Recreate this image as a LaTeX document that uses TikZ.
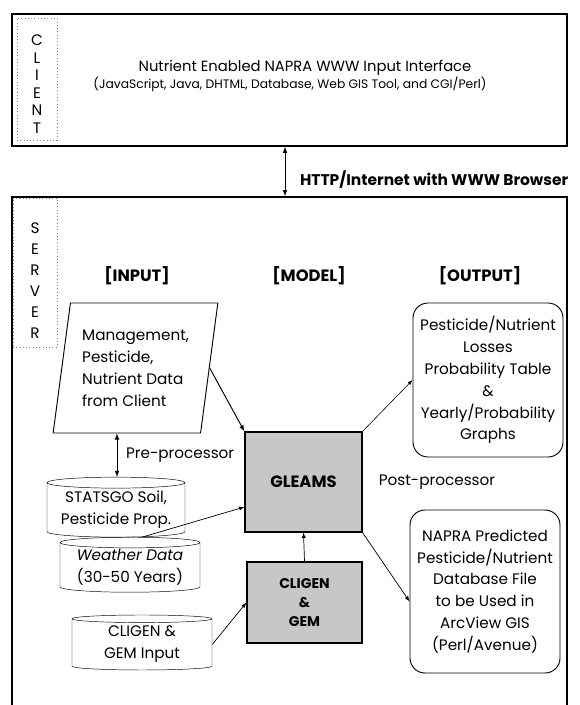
\documentclass[tikz,border=0pt]{standalone}
\usepackage{fontspec}
\setmainfont{Poppins}
\usepackage{tikz}
\usetikzlibrary{shapes.geometric,arrows}
\newcommand{\pxu}{0.03cm}
\tikzset{>=latex}

\begin{document}
\begin{tikzpicture}[x=0.03cm, y=-0.03cm]
\useasboundingbox (0,0) rectangle (579,705);
\tikzstyle{every node} = [font=\fontsize{13}{18.7}\selectfont]
\tikzstyle{frame} = [draw, line width=1.4pt, inner sep=0]
\tikzstyle{tag} = [draw=gray, dotted, line width=0.8pt, inner sep=0]
\tikzstyle{hdr} = [font=\fontsize{14}{16}\selectfont\bfseries]
\tikzstyle{data} = [cylinder, shape border rotate=90, aspect=0.1, draw, align=center, inner sep=0]
\tikzstyle{proc} = [draw, line width=1pt, fill=black!22, align=center, inner sep=0]
\tikzstyle{result} = [draw, line width=0.8pt, rounded corners=0.45cm, align=center, inner sep=0]

% client side
\node[frame, minimum width=555*\pxu, minimum height=132*\pxu] (client) at (289.5,80) {};
\node[tag, minimum width=40*\pxu, minimum height=122*\pxu] (clienttag) at (37,79) {};
\node[align=center, font=\fontsize{13}{15}\selectfont] (clientlbl) at (37,84) {C\\L\\I\\E\\N\\T};
\node[font=\fontsize{12.6}{15}\selectfont] (title) at (305,68) {Nutrient Enabled NAPRA WWW Input Interface};
\node[font=\fontsize{10.5}{12}\selectfont] (tools) at (290,84) {(JavaScript, Java, DHTML, Database, Web GIS Tool, and CGI/Perl)};

% server side
\node[frame, minimum width=555*\pxu, minimum height=563*\pxu] (server) at (289.5,478.5) {};
\node[tag, minimum width=44*\pxu, minimum height=149*\pxu] (servertag) at (35,272.5) {};
\node[align=center, font=\fontsize{13}{17.9}\selectfont] (serverlbl) at (35,281) {S\\E\\R\\V\\E\\R};

\coordinate (net) at (285,0);
\draw [<->, line width=0.8pt] (client.south -| net) -- (server.north -| net);
\node[hdr, anchor=west, font=\fontsize{13.2}{16}\selectfont\bfseries] (http) at (296,180) {HTTP/Internet with WWW Browser};

\node[hdr] (input) at (137,276) {[INPUT]};
\node[hdr] (model) at (309,276) {[MODEL]};
\node[hdr] (output) at (480,276) {[OUTPUT]};

% input
\node[trapezium, trapezium left angle=79.5, trapezium right angle=100.5, trapezium stretches=true,
  draw, line width=0.8pt, minimum width=165*\pxu, minimum height=130*\pxu, align=left, inner sep=0] (mgmt) at (135.5,368)
  {Management,\\Pesticide,\\Nutrient Data\\from Client};
\node[data, minimum width=138*\pxu, minimum height=60*\pxu] (statsgo) at (116,510) {STATSGO Soil,\\Pesticide Prop.};
\node[data, minimum width=140*\pxu, minimum height=55*\pxu] (weather) at (130,567.5) {\itshape Weather Data\\(30-50 Years)};
\node[data, minimum width=140*\pxu, minimum height=55*\pxu] (cligenin) at (142,644.5) {CLIGEN \&\\GEM Input};

% model
\node[proc, minimum width=117*\pxu, minimum height=100*\pxu, font=\fontsize{14}{16}\selectfont\bfseries] (gleams) at (303.5,482) {GLEAMS};
\node[proc, minimum width=115*\pxu, minimum height=81*\pxu, font=\fontsize{12}{16}\selectfont\bfseries] (cligen) at (304.5,602.5) {CLIGEN\\\&\\GEM};

% output
\node[result, minimum width=150*\pxu, minimum height=154*\pxu] (losses) at (488,380)
  {Pesticide/Nutrient\\Losses\\Probability Table\\\&\\Yearly/Probability\\Graphs};
\node[result, minimum width=150*\pxu, minimum height=163*\pxu] (napra) at (485,591.5)
  {NAPRA Predicted\\Pesticide/Nutrient\\Database File\\to be Used in\\ArcView GIS\\(Perl/Avenue)};
\node (post) at (437,482) {Post-processor};

\coordinate (pp) at (117,0);
\draw [<->, line width=0.8pt] (mgmt.south -| pp) -- (statsgo.north -| pp) node[pos=0.5, anchor=west, xshift=4pt] (pre) {Pre-processor};
\draw [->, line width=0.8pt] (mgmt.east) -- (gleams.north west);
\draw [->, line width=0.6pt] (statsgo.south east) -- ([shift={(0,25)}]gleams.west);
\draw [->, line width=0.6pt] (cligenin.east) -- (cligen.west);
\draw [->, line width=0.6pt] (cligen.north) -- (gleams.south);
\draw [->, line width=0.5pt] (gleams.north east) -- (losses.west);
\draw [->, line width=0.6pt] (gleams.south east) -- ([shift={(0,10)}]napra.west);
\end{tikzpicture}
\end{document}
